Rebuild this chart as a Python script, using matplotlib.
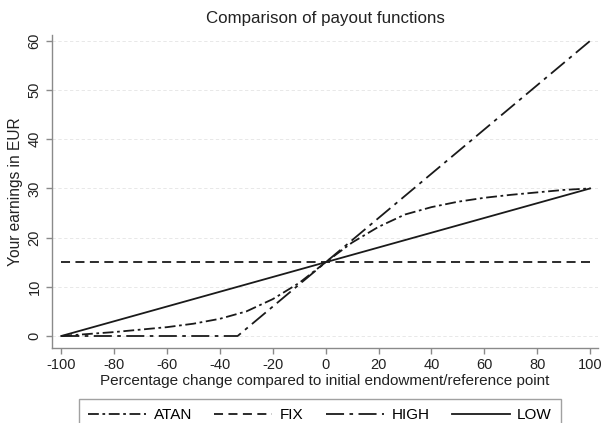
import matplotlib.pyplot as plt
import matplotlib

matplotlib.rcParams['font.family'] = ['Liberation Sans', 'DejaVu Sans']
matplotlib.rcParams['axes.unicode_minus'] = False

# Percentage change and the payout for each scheme (EUR)
pct = [-100, -90, -80, -70, -60, -50, -40, -30, -20, -10, 0,
       10, 20, 30, 40, 50, 60, 70, 80, 90, 100]
atan = [0, 0.4, 0.8, 1.3, 1.8, 2.5, 3.5, 5.0, 7.5, 10.8, 15,
        19, 22.2, 24.7, 26.2, 27.3, 28.1, 28.7, 29.2, 29.7, 30]
fix_x = [-100, 100]
fix_y = [15, 15]
high_x = [-100, -33.3, 100]
high_y = [0, 0, 60]
low_x = [-100, 100]
low_y = [0, 30]

xticks = list(range(-100, 101, 20))
yticks = list(range(0, 61, 10))

fig = plt.figure(figsize=(6.02, 4.23), dpi=100)
ax = fig.add_axes([0.0864, 0.1773, 0.907, 0.740])

line_col = '#1a1a1a'
ax.plot(pct, atan, color=line_col, lw=1.3, linestyle=(0, (6, 2, 1.5, 2)), label='ATAN')
ax.plot(fix_x, fix_y, color=line_col, lw=1.3, linestyle=(0, (5, 3)), label='FIX')
ax.plot(high_x, high_y, color=line_col, lw=1.3, linestyle=(0, (10, 3, 2, 3)), label='HIGH')
ax.plot(low_x, low_y, color=line_col, lw=1.3, label='LOW')

ax.set_xlim(-103.5, 103)
ax.set_ylim(-2.44, 61.2)
ax.set_xticks(xticks)
ax.set_yticks(yticks)
ax.set_yticklabels([str(v) for v in yticks], rotation=90, va='center')

# Grid Options
ax.grid(axis='y', linestyle=(0, (4, 3)), linewidth=0.6, color='#e4e4e4')
ax.set_axisbelow(True)

for side in ['top', 'right']:
    ax.spines[side].set_visible(False)
for side in ['left', 'bottom']:
    ax.spines[side].set_color('#8a8a8a')
    ax.spines[side].set_linewidth(1.0)
ax.tick_params(colors='#8a8a8a', labelcolor='#222222', labelsize=10.5, length=4, width=1.0)

# title sits centred over the plot region
fig.text(0.0864 + 0.907 / 2, 1 - 18 / 423, 'Comparison of payout functions',
         fontsize=12.2, color='#222222', ha='center', va='center')
ax.set_xlabel('Percentage change compared to initial endowment/reference point',
              fontsize=11, color='#222222', labelpad=1)
ax.set_ylabel('Your earnings in EUR', fontsize=11.2, color='#222222', labelpad=3)

leg = fig.legend(loc='upper center', bbox_to_anchor=(320 / 602, 1 - 399 / 423), ncol=4,
                 fontsize=11, handlelength=3.8, columnspacing=1.45, handletextpad=0.5,
                 fancybox=False, edgecolor='#8a8a8a', borderpad=0.6, borderaxespad=0)
leg.get_frame().set_linewidth(1.0)

fig.savefig('out.png', dpi=100)
